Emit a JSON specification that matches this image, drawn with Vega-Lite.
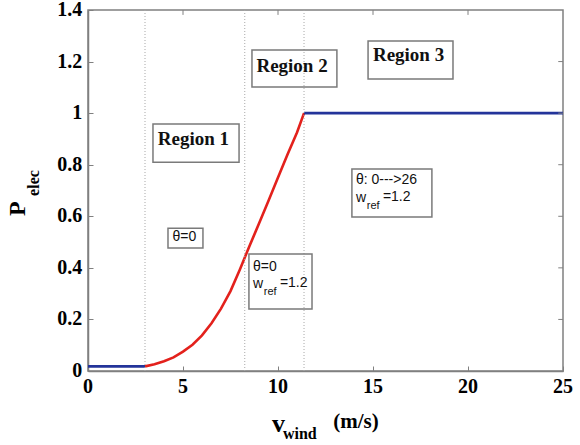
{
  "$schema": "https://vega.github.io/schema/vega-lite/v6.json",
  "width": 475,
  "height": 361,
  "autosize": {"type": "none"},
  "padding": {"left": 88, "top": 10, "right": 17, "bottom": 74},
  "background": "white",
  "config": {
    "view": {"stroke": "#808080", "strokeWidth": 1.5}
  },
  "datasets": {
    "curve": [
      {"v": 0, "p": 0.018, "seg": "low"},
      {"v": 3, "p": 0.018, "seg": "low"},
      {"v": 3.0, "p": 0.018, "seg": "mid"},
      {"v": 3.5, "p": 0.026, "seg": "mid"},
      {"v": 4.0, "p": 0.038, "seg": "mid"},
      {"v": 4.5, "p": 0.053, "seg": "mid"},
      {"v": 5.0, "p": 0.075, "seg": "mid"},
      {"v": 5.5, "p": 0.102, "seg": "mid"},
      {"v": 6.0, "p": 0.138, "seg": "mid"},
      {"v": 6.5, "p": 0.185, "seg": "mid"},
      {"v": 7.0, "p": 0.242, "seg": "mid"},
      {"v": 7.5, "p": 0.31, "seg": "mid"},
      {"v": 8.0, "p": 0.395, "seg": "mid"},
      {"v": 8.5, "p": 0.485, "seg": "mid"},
      {"v": 9.0, "p": 0.572, "seg": "mid"},
      {"v": 9.5, "p": 0.66, "seg": "mid"},
      {"v": 10.0, "p": 0.75, "seg": "mid"},
      {"v": 10.5, "p": 0.84, "seg": "mid"},
      {"v": 11.0, "p": 0.925, "seg": "mid"},
      {"v": 11.37, "p": 1.0, "seg": "mid"},
      {"v": 11.37, "p": 1.0, "seg": "high"},
      {"v": 25, "p": 1.0, "seg": "high"}
    ],
    "vlines": [{"v": 3}, {"v": 8.25}, {"v": 11.37}],
    "xticks": [{"v": 5}, {"v": 10}, {"v": 15}, {"v": 20}],
    "yticks": [{"p": 0.2}, {"p": 0.4}, {"p": 0.6}, {"p": 0.8}, {"p": 1}, {"p": 1.2}],
    "xlabels": [
      {"v": 0, "text": "0"}, {"v": 5, "text": "5"}, {"v": 10, "text": "10"},
      {"v": 15, "text": "15"}, {"v": 20, "text": "20"}, {"v": 25, "text": "25"}
    ],
    "ylabels": [
      {"p": 0, "text": "0"}, {"p": 0.2, "text": "0.2"}, {"p": 0.4, "text": "0.4"}, {"p": 0.6, "text": "0.6"},
      {"p": 0.8, "text": "0.8"}, {"p": 1, "text": "1"}, {"p": 1.2, "text": "1.2"}, {"p": 1.4, "text": "1.4"}
    ],
    "boxes": [
      {"name": "Region 1", "v1": 3.42, "v2": 7.95, "p1": 0.81, "p2": 0.958},
      {"name": "Region 2", "v1": 8.63, "v2": 13.1, "p1": 1.101, "p2": 1.245},
      {"name": "Region 3", "v1": 14.74, "v2": 19.21, "p1": 1.132, "p2": 1.28},
      {"name": "note1", "v1": 4.21, "v2": 6.05, "p1": 0.477, "p2": 0.554},
      {"name": "note2", "v1": 8.47, "v2": 11.79, "p1": 0.24, "p2": 0.454},
      {"name": "note3", "v1": 13.89, "v2": 18.1, "p1": 0.597, "p2": 0.783}
    ],
    "regions": [
      {"v": 5.55, "p": 0.9, "text": "Region 1"},
      {"v": 10.74, "p": 1.183, "text": "Region 2"},
      {"v": 16.87, "p": 1.225, "text": "Region 3"}
    ],
    "notes": [
      {"v": 4.45, "p": 0.518, "text": "θ=0"},
      {"v": 8.68, "p": 0.405, "text": "θ=0"},
      {"v": 8.68, "p": 0.338, "text": "w"},
      {"v": 10.1, "p": 0.342, "text": "=1.2"},
      {"v": 14.1, "p": 0.74, "text": "θ: 0--->26"},
      {"v": 14.1, "p": 0.672, "text": "w"},
      {"v": 15.52, "p": 0.676, "text": "=1.2"}
    ],
    "subs": [
      {"v": 9.25, "p": 0.306, "text": "ref"},
      {"v": 14.67, "p": 0.64, "text": "ref"}
    ],
    "titleV": [{"v": 10.03, "p": -0.207, "text": "v"}],
    "titleWind": [{"v": 11.15, "p": -0.244, "text": "wind"}],
    "titleUnit": [{"v": 14.1, "p": -0.196, "text": "(m/s)"}],
    "titleP": [{"v": -3.71, "p": 0.63, "text": "P"}],
    "titleElec": [{"v": -2.84, "p": 0.729, "text": "elec"}]
  },
  "layer": [
    {
      "data": {"name": "curve"},
      "mark": {"type": "line", "strokeWidth": 2.6},
      "encoding": {
        "x": {"field": "v", "type": "quantitative", "scale": {"domain": [0, 25], "nice": false, "zero": false},
              "axis": {"orient": "bottom", "values": [0, 5, 10, 15, 20, 25], "labels": false, "grid": false, "title": null,
                       "domainColor": "#808080", "domainWidth": 1.5, "tickColor": "#808080", "tickSize": -5}},
        "y": {"field": "p", "type": "quantitative", "scale": {"domain": [0, 1.4], "nice": false, "zero": false},
              "axis": {"orient": "left", "values": [0, 0.2, 0.4, 0.6, 0.8, 1, 1.2, 1.4], "labels": false, "grid": false, "title": null,
                       "domainColor": "#808080", "domainWidth": 1.5, "tickColor": "#808080", "tickSize": -5}},
        "color": {"field": "seg", "type": "nominal", "legend": null,
                  "scale": {"domain": ["low", "mid", "high"], "range": ["#23349a", "#e3211c", "#23349a"]}},
        "detail": {"field": "seg"}
      }
    },
    {
      "data": {"name": "vlines"},
      "mark": {"type": "rule", "color": "#a8a8a8", "strokeDash": [1, 2], "strokeWidth": 1},
      "encoding": {
        "x": {"field": "v", "type": "quantitative"},
        "y": {"datum": 0, "type": "quantitative"},
        "y2": {"datum": 1.4}
      }
    },
    {
      "data": {"name": "xticks"},
      "mark": {"type": "rule", "color": "#808080", "strokeWidth": 1},
      "encoding": {
        "x": {"field": "v", "type": "quantitative"},
        "y": {"datum": 1.4, "type": "quantitative"},
        "y2": {"datum": 1.381}
      }
    },
    {
      "data": {"name": "yticks"},
      "mark": {"type": "rule", "color": "#808080", "strokeWidth": 1},
      "encoding": {
        "y": {"field": "p", "type": "quantitative"},
        "x": {"datum": 25, "type": "quantitative"},
        "x2": {"datum": 24.75}
      }
    },
    {
      "data": {"name": "boxes"},
      "mark": {"type": "rect", "fill": "white", "fillOpacity": 0, "stroke": "#7a7a7a", "strokeWidth": 1.5},
      "encoding": {
        "x": {"field": "v1", "type": "quantitative"},
        "x2": {"field": "v2"},
        "y": {"field": "p1", "type": "quantitative"},
        "y2": {"field": "p2"}
      }
    },
    {
      "data": {"name": "xlabels"},
      "mark": {"type": "text", "font": "Liberation Serif", "fontWeight": "bold", "fontSize": 20, "align": "center", "baseline": "middle", "color": "black"},
      "encoding": {
        "x": {"field": "v", "type": "quantitative"},
        "y": {"datum": -0.062, "type": "quantitative"},
        "text": {"field": "text"}
      }
    },
    {
      "data": {"name": "ylabels"},
      "mark": {"type": "text", "font": "Liberation Serif", "fontWeight": "bold", "fontSize": 20, "align": "right", "baseline": "middle", "color": "black"},
      "encoding": {
        "y": {"field": "p", "type": "quantitative"},
        "x": {"datum": -0.3, "type": "quantitative"},
        "text": {"field": "text"}
      }
    },
    {
      "data": {"name": "regions"},
      "mark": {"type": "text", "font": "Liberation Serif", "fontWeight": "bold", "fontSize": 19, "align": "center", "baseline": "middle", "color": "#111"},
      "encoding": {"x": {"field": "v", "type": "quantitative"}, "y": {"field": "p", "type": "quantitative"}, "text": {"field": "text"}}
    },
    {
      "data": {"name": "notes"},
      "mark": {"type": "text", "font": "Liberation Sans", "fontSize": 14, "align": "left", "baseline": "middle", "color": "#111"},
      "encoding": {"x": {"field": "v", "type": "quantitative"}, "y": {"field": "p", "type": "quantitative"}, "text": {"field": "text"}}
    },
    {
      "data": {"name": "subs"},
      "mark": {"type": "text", "font": "Liberation Sans", "fontSize": 11, "align": "left", "baseline": "middle", "color": "#111"},
      "encoding": {"x": {"field": "v", "type": "quantitative"}, "y": {"field": "p", "type": "quantitative"}, "text": {"field": "text"}}
    },
    {
      "data": {"name": "titleV"},
      "mark": {"type": "text", "font": "Liberation Serif", "fontWeight": "bold", "fontSize": 26, "align": "center", "baseline": "middle", "color": "black"},
      "encoding": {"x": {"field": "v", "type": "quantitative"}, "y": {"field": "p", "type": "quantitative"}, "text": {"field": "text"}}
    },
    {
      "data": {"name": "titleWind"},
      "mark": {"type": "text", "font": "Liberation Serif", "fontWeight": "bold", "fontSize": 16, "align": "center", "baseline": "middle", "color": "black"},
      "encoding": {"x": {"field": "v", "type": "quantitative"}, "y": {"field": "p", "type": "quantitative"}, "text": {"field": "text"}}
    },
    {
      "data": {"name": "titleUnit"},
      "mark": {"type": "text", "font": "Liberation Serif", "fontWeight": "bold", "fontSize": 21, "align": "center", "baseline": "middle", "color": "black"},
      "encoding": {"x": {"field": "v", "type": "quantitative"}, "y": {"field": "p", "type": "quantitative"}, "text": {"field": "text"}}
    },
    {
      "data": {"name": "titleP"},
      "mark": {"type": "text", "font": "Liberation Serif", "fontWeight": "bold", "fontSize": 24, "angle": 270, "align": "center", "baseline": "middle", "color": "black"},
      "encoding": {"x": {"field": "v", "type": "quantitative"}, "y": {"field": "p", "type": "quantitative"}, "text": {"field": "text"}}
    },
    {
      "data": {"name": "titleElec"},
      "mark": {"type": "text", "font": "Liberation Serif", "fontWeight": "bold", "fontSize": 16, "angle": 270, "align": "center", "baseline": "middle", "color": "black"},
      "encoding": {"x": {"field": "v", "type": "quantitative"}, "y": {"field": "p", "type": "quantitative"}, "text": {"field": "text"}}
    }
  ]
}
